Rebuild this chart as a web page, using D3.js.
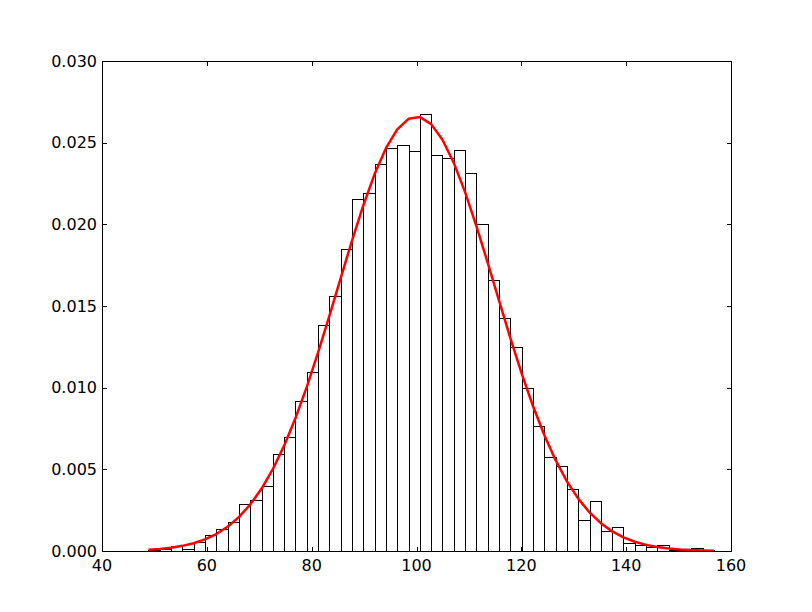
<!DOCTYPE html>
<html><head><meta charset="utf-8">
<script src="https://cdn.jsdelivr.net/npm/d3@7"></script>
<style>body{margin:0;background:#fff}svg{display:block}text{font-family:"DejaVu Sans",sans-serif}</style>
</head><body>
<script>
const binEdges = [48.85,51.01,53.17,55.32,57.48,59.64,61.80,63.96,66.11,68.27,70.43,72.59,74.75,76.90,79.06,81.22,83.38,85.54,87.69,89.85,92.01,94.17,96.33,98.48,100.64,102.80,104.96,107.12,109.27,111.43,113.59,115.75,117.91,120.06,122.22,124.38,126.54,128.70,130.85,133.01,135.17,137.33,139.49,141.64,143.80,145.96,148.12,150.28,152.43,154.59,156.75];
const binDensity = [0.00006,0.0001,0.00033,0.00014,0.00054,0.00096,0.00133,0.00178,0.00288,0.00312,0.00398,0.00594,0.00696,0.00917,0.01094,0.01382,0.01559,0.01847,0.02153,0.0219,0.02367,0.02465,0.02486,0.02447,0.02673,0.02422,0.02404,0.02453,0.02312,0.0200,0.01657,0.01424,0.01247,0.00996,0.00763,0.00574,0.00520,0.0038,0.00188,0.00304,0.0012,0.00147,0.00047,0.00035,0.00023,0.00039,0.00005,0.00005,0.0002,0.00005];
const curveDensity = [0.0000794,0.0001284,0.0002035,0.000315,0.000478,0.000712,0.001039,0.001484,0.002073,0.002839,0.003811,0.005009,0.006450,0.008126,0.010037,0.012146,0.014396,0.016713,0.018992,0.021155,0.023078,0.024663,0.025811,0.026460,0.026572,0.026136,0.025181,0.023764,0.021971,0.019894,0.017644,0.015325,0.013040,0.010875,0.008878,0.007098,0.005559,0.004263,0.003207,0.002361,0.001702,0.001202,0.000831,0.000564,0.000374,0.000243,0.000155,0.0000966,0.0000591,0.0000354,0.0000207];
const xTicks = [40,60,80,100,120,140,160];
const yTicks = [0,0.005,0.010,0.015,0.020,0.025,0.030];

const W=812,H=612, L=102, R=731, T=61, B=551;
const svg=d3.select("body").append("svg").attr("width",W).attr("height",H);
const x=d3.scaleLinear().domain([40,160]).range([L,R]);
const y=d3.scaleLinear().domain([0,0.03]).range([B,T]);

const bins = binDensity.map((v,i)=>({x0:binEdges[i],x1:binEdges[i+1],v}));
svg.append("g").selectAll("rect").data(bins).join("rect")
  .attr("x",d=>Math.round(x(d.x0))+0.5)
  .attr("width",d=>Math.round(x(d.x1))-Math.round(x(d.x0)))
  .attr("y",d=>Math.round(y(d.v))+0.5)
  .attr("height",d=>Math.max(0,Math.round(B)-Math.round(y(d.v))))
  .attr("fill","#fff").attr("stroke","#000").attr("stroke-width",1);

svg.append("path").datum(curveDensity.map((v,i)=>[binEdges[i],v]))
  .attr("d",d3.line().x(d=>x(d[0])).y(d=>y(d[1])))
  .attr("fill","none").attr("stroke","#ff0000").attr("stroke-width",2.5).attr("stroke-linejoin","round");

// frame
svg.append("rect").attr("x",L+0.5).attr("y",T+0.5).attr("width",R-L).attr("height",B-T)
  .attr("fill","none").attr("stroke","#000").attr("stroke-width",1);

// ticks (inward, all sides)
const tl=4;
const g=svg.append("g").attr("stroke","#000").attr("stroke-width",1);
xTicks.forEach(t=>{const px=Math.round(x(t))+0.5;
  g.append("line").attr("x1",px).attr("x2",px).attr("y1",B).attr("y2",B-tl);
  g.append("line").attr("x1",px).attr("x2",px).attr("y1",T+1).attr("y2",T+1+tl);});
yTicks.forEach(t=>{const py=Math.round(y(t))+0.5;
  g.append("line").attr("x1",L+1).attr("x2",L+1+tl).attr("y1",py).attr("y2",py);
  g.append("line").attr("x1",R).attr("x2",R-tl).attr("y1",py).attr("y2",py);});

svg.append("g").selectAll("text").data(xTicks).join("text")
  .attr("x",d=>x(d)).attr("y",B+20).attr("text-anchor","middle")
  .attr("font-size",16).attr("fill","#000").text(d=>d);
svg.append("g").selectAll("text").data(yTicks).join("text")
  .attr("x",L-5).attr("y",d=>y(d)).attr("dy","0.36em").attr("text-anchor","end")
  .attr("font-size",16).attr("fill","#000").text(d=>d3.format(".3f")(d));
</script>
</body></html>
